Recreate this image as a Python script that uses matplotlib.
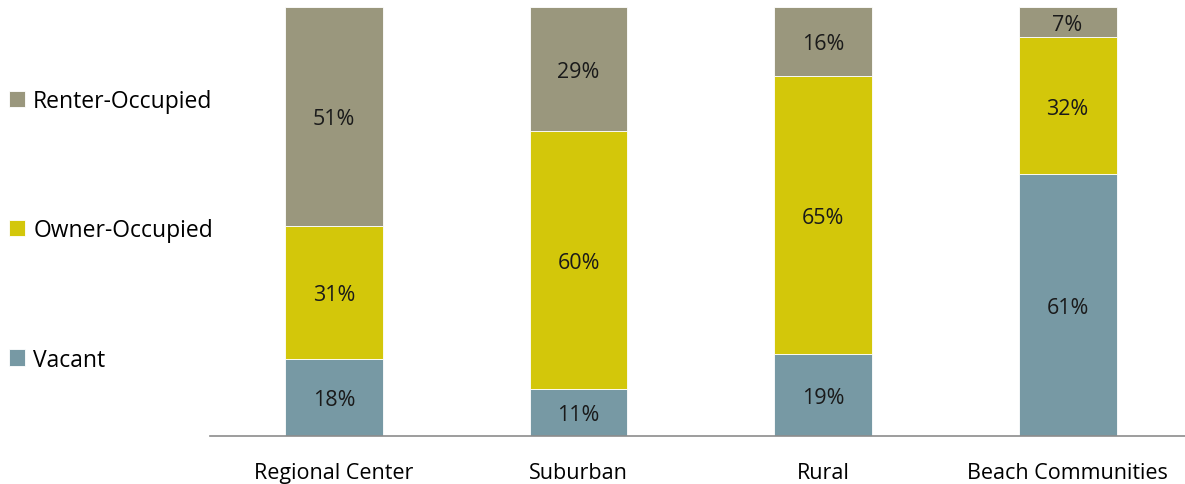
import numpy as np
import matplotlib
matplotlib.use("Agg")
import matplotlib.pyplot as plt

# datos del grafico (porcentajes)
categories = ["Regional Center", "Suburban", "Rural", "Beach Communities"]
vacant = [18, 11, 19, 61]
owner_occupied = [31, 60, 65, 32]
renter_occupied = [51, 29, 16, 7]

series_names = ["Vacant", "Owner-Occupied", "Renter-Occupied"]
colors = ["#7799a4", "#d3c70a", "#9a977d"]

plt.rcParams['font.family'] = ['Open Sans', 'DejaVu Sans']

fig = plt.figure(figsize=(11.85, 4.85), dpi=100)
ax = fig.add_axes([0.177, 0.099, 0.823, 0.8845])

x = np.arange(len(categories))
bottom = np.zeros(len(categories))
handles = []
for values, name, color in zip([vacant, owner_occupied, renter_occupied], series_names, colors):
    values = np.array(values, dtype=float)
    bars = ax.bar(x, values, bottom=bottom, width=0.40, color=color,
                  edgecolor="white", linewidth=0.6, label=name)
    handles.append(bars)
    for xi, b, v in zip(x, bottom, values):
        ax.text(xi, b + v / 2, "{}%".format(int(v)), ha="center", va="center_baseline",
                fontsize=15.5, color="#1a1a1a")
    bottom += values

ax.set_xlim(-0.508, 3.48)
ax.set_ylim(0, 100)
ax.set_yticks([])
ax.set_xticks(x)
ax.set_xticklabels(categories, fontsize=15.5)
ax.tick_params(axis="x", length=0, pad=19)
for side in ["left", "right", "top"]:
    ax.spines[side].set_visible(False)
ax.spines["bottom"].set_color("#8c8c8c")
ax.spines["bottom"].set_linewidth(1.2)

# leyenda a la izquierda, orden invertido
fig.legend(handles[::-1], series_names[::-1], loc="upper left",
           bbox_to_anchor=(0.0, 0.834), frameon=False, fontsize=16.5,
           handlelength=0.7, handleheight=0.7, handletextpad=0.35,
           labelspacing=4.6, borderaxespad=0.0)

fig.savefig("out.png", dpi=100)
